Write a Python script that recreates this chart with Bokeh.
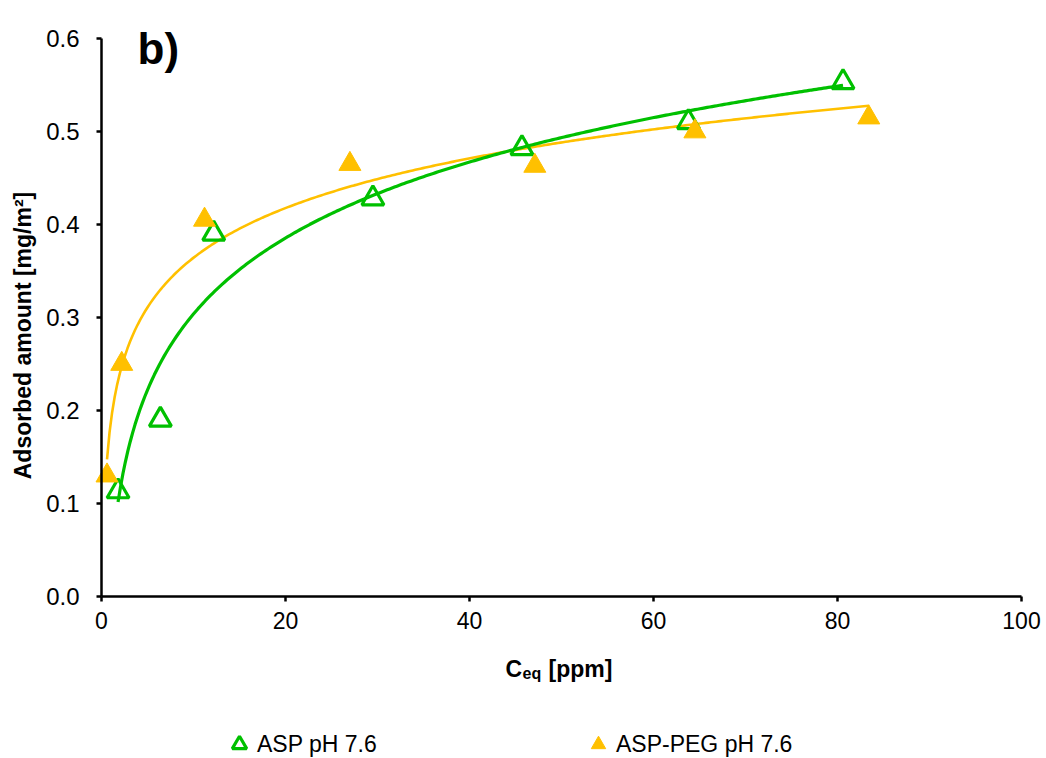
import numpy as np
from bokeh.plotting import figure
from bokeh.models import (Range1d, FixedTicker, NumeralTickFormatter, Label, Legend,
                          LegendItem, LinearAxis)
from bokeh.embed import file_html
from bokeh.resources import INLINE

# ---- data ----
asp_x = [1.8, 6.4, 12.2, 29.5, 45.7, 63.8, 80.6]
asp_y = [0.113, 0.190, 0.390, 0.428, 0.482, 0.510, 0.553]
peg_x = [0.6, 2.2, 11.2, 27.0, 47.1, 64.5, 83.4]
peg_y = [0.130, 0.250, 0.405, 0.465, 0.463, 0.500, 0.515]
x_ticks = [0, 20, 40, 60, 80, 100]
y_ticks = [0.0, 0.1, 0.2, 0.3, 0.4, 0.5, 0.6]
series_names = ["ASP pH 7.6", "ASP-PEG pH 7.6"]

GREEN = "#00C000"
ORANGE = "#FFC000"
FONT = "Liberation Sans"

# ---- layout: frame covers the whole canvas; axes are fixed at x=0 / y=0 ----
W, H = 1046, 758
PX_LEFT, PX_RIGHT = 101, 1021      # pixel position of x=0 and x=100
PY_TOP, PY_BOTTOM = 38, 596        # pixel position of y=0.6 and y=0
sx = (PX_RIGHT - PX_LEFT) / 100.0
sy = (PY_BOTTOM - PY_TOP) / 0.6
x_range = Range1d(-PX_LEFT / sx, (W - PX_LEFT) / sx)
y_range = Range1d(-(H - PY_BOTTOM) / sy, 0.6 + PY_TOP / sy)


def dx(px):
    return (px - PX_LEFT) / sx


def dy(py):
    return (PY_BOTTOM - py) / sy


def log_fit(xs, ys):
    xs = np.asarray(xs, float)
    ys = np.asarray(ys, float)
    b, a = np.polyfit(np.log(xs), ys, 1)
    xx = np.linspace(xs.min(), xs.max(), 300)
    return xx, a + b * np.log(xx)


p = figure(width=W, height=H, output_backend="svg", toolbar_location=None,
           x_range=x_range, y_range=y_range, x_axis_type=None, y_axis_type=None,
           min_border=0)
p.outline_line_color = None
p.background_fill_color = "white"
p.border_fill_color = "white"

xaxis = LinearAxis(fixed_location=0, bounds=(0, 100), ticker=FixedTicker(ticks=x_ticks))
yaxis = LinearAxis(fixed_location=0, bounds=(0, 0.6), ticker=FixedTicker(ticks=y_ticks),
                   formatter=NumeralTickFormatter(format="0.0"))
for ax in (xaxis, yaxis):
    ax.axis_line_color = "black"
    ax.axis_line_width = 2.5
    ax.major_tick_line_color = "black"
    ax.major_tick_line_width = 2.5
    ax.major_tick_in = 0
    ax.major_tick_out = 5
    ax.minor_tick_line_color = None
    ax.major_label_text_font = FONT
    ax.major_label_text_color = "black"
xaxis.major_label_text_font_size = "23px"
yaxis.major_label_text_font_size = "24px"
yaxis.major_label_standoff = 17
xaxis.major_label_standoff = 10
p.add_layout(xaxis, "below")
p.add_layout(yaxis, "left")

# logarithmic trend lines (under the markers)
fx, fy = log_fit(peg_x, peg_y)
p.line(fx, fy, line_color=ORANGE, line_width=2.6, level="underlay")
gx, gy = log_fit(asp_x, asp_y)
p.line(gx, gy, line_color=GREEN, line_width=3.2, level="underlay")

# markers
r_asp = p.scatter(asp_x, asp_y, marker="triangle", size=22, fill_color=None,
                  line_color=GREEN, line_width=3.2)
r_peg = p.scatter(peg_x, peg_y, marker="triangle", size=22, fill_color=ORANGE,
                  line_color=ORANGE, line_width=1)

# panel letter
p.add_layout(Label(x=dx(137), y=dy(48), text="b)", text_font=FONT, text_font_style="bold",
                   text_font_size="44px", text_baseline="alphabetic", text_align="left",
                   text_color="black"))

# y axis title
p.add_layout(Label(x=dx(22), y=dy(335), text="Adsorbed amount [mg/m²]", angle=np.pi / 2,
                   text_font=FONT, text_font_style="bold", text_font_size="23px",
                   text_align="center", text_baseline="middle", text_color="black"))

# x axis title with subscript
p.add_layout(Label(x=dx(505), y=dy(668), text="C", text_font=FONT, text_font_style="bold",
                   text_font_size="23px", text_align="left", text_baseline="alphabetic",
                   text_color="black"))
p.add_layout(Label(x=dx(522), y=dy(673), text="eq", text_font=FONT, text_font_style="bold",
                   text_font_size="16px", text_align="left", text_baseline="alphabetic",
                   text_color="black"))
p.add_layout(Label(x=dx(548), y=dy(668), text="[ppm]", text_font=FONT, text_font_style="bold",
                   text_font_size="23px", text_align="left", text_baseline="alphabetic",
                   text_color="black"))

# legend below the plot
legend = Legend(items=[LegendItem(label=series_names[0], renderers=[r_asp]),
                       LegendItem(label=series_names[1], renderers=[r_peg])],
                orientation="horizontal", location=(221, -4),
                glyph_width=36, glyph_height=36, label_standoff=0,
                label_width=300, spacing=23, padding=0, margin=0,
                border_line_color=None, background_fill_alpha=0,
                label_text_font=FONT, label_text_font_size="23px",
                label_text_color="black")
p.add_layout(legend, "center")

open("out.html", "w").write(file_html(p, INLINE))
